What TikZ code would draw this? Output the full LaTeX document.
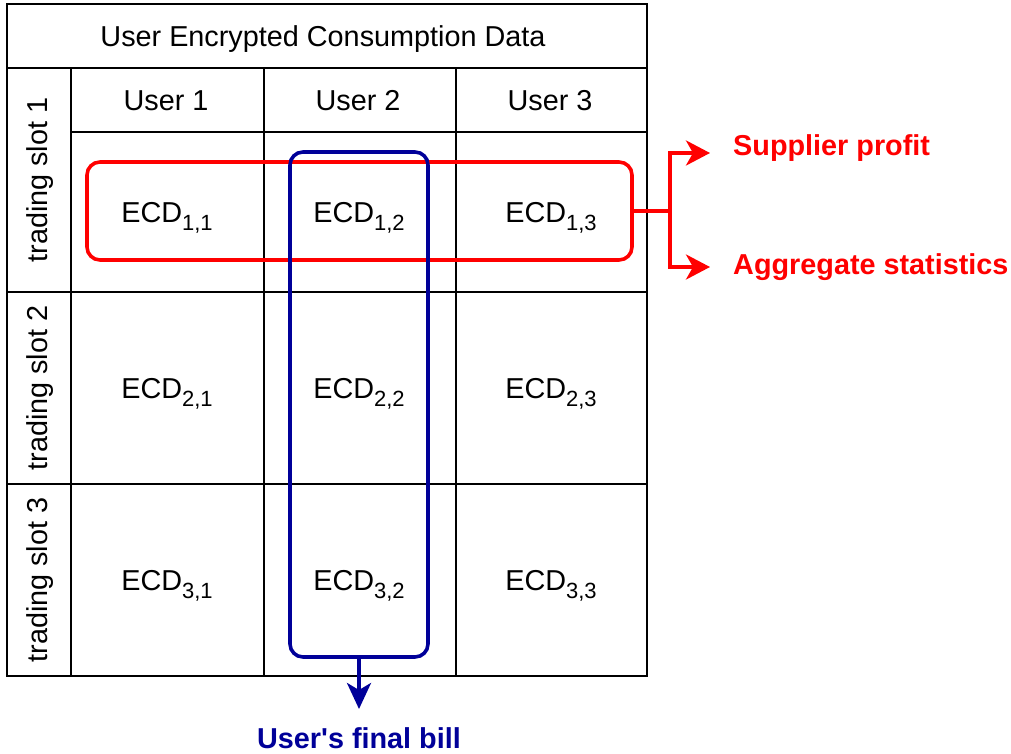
\documentclass[tikz,border=0pt]{standalone}
\usepackage{fontspec}
\setmainfont{Liberation Sans}
\usetikzlibrary{arrows.meta}
\newcommand\sbs[1]{\raisebox{-0.28em}{\fontsize{22}{22}\selectfont #1}}
\begin{document}
\begin{tikzpicture}[x=1pt,y=-1pt,
  grid/.style={draw=black,line width=1.4pt},
  txt/.style={font=\fontsize{28.8}{34}\selectfont,inner sep=0pt},
  ecd/.style={txt,anchor=base},
  slot/.style={txt,rotate=90},
  redbox/.style={draw=red,line width=3.6pt,rounded corners=13pt,inner sep=0pt},
  bluebox/.style={draw={rgb,255:red,0;green,0;blue,153},line width=3.6pt,rounded corners=13pt,inner sep=0pt},
  redline/.style={draw=red,line width=3.6pt},
  redarrow/.style={redline,-{Stealth[length=24pt,width=25pt,inset=7pt]}},
  bluearrow/.style={draw={rgb,255:red,0;green,0;blue,153},line width=3.6pt,-{Stealth[length=26pt,width=24pt,inset=7pt]}},
  redtxt/.style={txt,font=\fontsize{28.8}{34}\selectfont\bfseries,text=red,anchor=west},
  bluetxt/.style={txt,font=\fontsize{28.8}{34}\selectfont\bfseries,text={rgb,255:red,0;green,0;blue,153}}
]
\useasboundingbox (0,0) rectangle (1011,754);
% grid
\draw[grid] (7,4) rectangle (647,676);
\draw[grid] (7,68) -- (647,68);
\draw[grid] (71,132) -- (647,132);
\draw[grid] (7,292) -- (647,292);
\draw[grid] (7,484) -- (647,484);
\draw[grid] (71,68) -- (71,676);
\draw[grid] (264,68) -- (264,676);
\draw[grid] (456,68) -- (456,676);
% header texts
\node[txt] (hdr) at (323,39) {User Encrypted Consumption Data};
\node[txt] (u1) at (166,101) {User 1};
\node[txt] (u2) at (358,101) {User 2};
\node[txt] (u3) at (550,101) {User 3};
\node[slot] (s1) at (40,180) {trading slot 1};
\node[slot] (s2) at (40,388) {trading slot 2};
\node[slot] (s3) at (40,580) {trading slot 3};
% cells
\node[ecd] (c11) at (167,222) {ECD\sbs{1,1}};
\node[ecd] (c12) at (359,222) {ECD\sbs{1,2}};
\node[ecd] (c13) at (551,222) {ECD\sbs{1,3}};
\node[ecd] (c21) at (167,398) {ECD\sbs{2,1}};
\node[ecd] (c22) at (359,398) {ECD\sbs{2,2}};
\node[ecd] (c23) at (551,398) {ECD\sbs{2,3}};
\node[ecd] (c31) at (167,590) {ECD\sbs{3,1}};
\node[ecd] (c32) at (359,590) {ECD\sbs{3,2}};
\node[ecd] (c33) at (551,590) {ECD\sbs{3,3}};
% highlight boxes
\node[redbox,minimum width=545pt,minimum height=98pt] (rb) at (359.5,211) {};
\node[bluebox,minimum width=138pt,minimum height=505pt] (bb) at (359,404.5) {};
% labels
\node[redtxt] (sp) at (733,148) {Supplier profit};
\node[redtxt] (as) at (733,267) {Aggregate statistics};
\node[bluetxt] (fb) at (359,738.5) {User\textquotesingle s final bill};
% connectors
\coordinate (j) at (670,211);
\coordinate (a1) at (710,153);
\coordinate (a2) at (710,267);
\coordinate (a3) at (359,709);
\draw[redline] (rb.east) -- (j);
\draw[redarrow] (j) |- (a1);
\draw[redarrow] (j) |- (a2);
\draw[bluearrow] (bb.south) -- (a3);
\end{tikzpicture}
\end{document}
